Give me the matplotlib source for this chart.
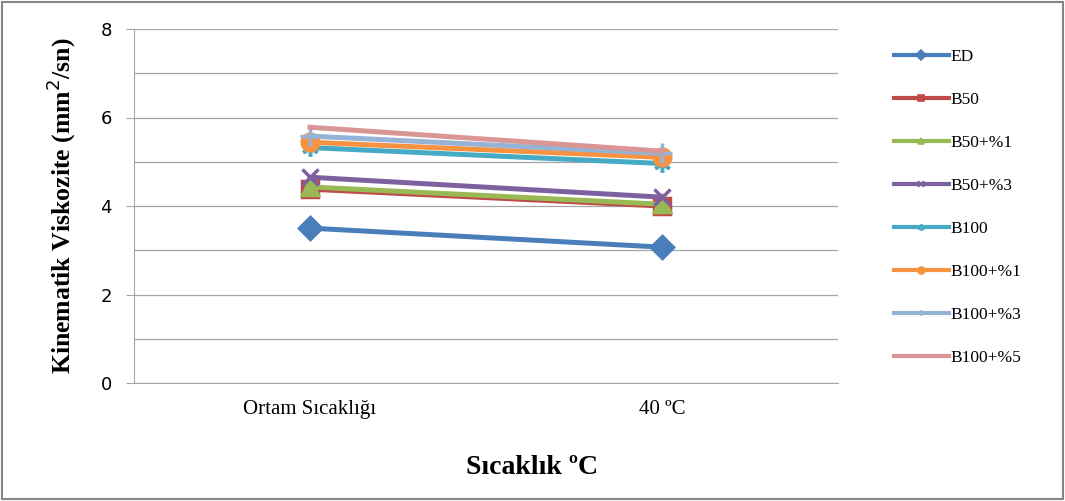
import matplotlib
matplotlib.use("Agg")
import matplotlib.pyplot as plt
from matplotlib.patches import Rectangle

categories = ["Ortam Sıcaklığı", "40 ºC"]
series_names = ["ED", "B50", "B50+%1", "B50+%3", "B100", "B100+%1", "B100+%3", "B100+%5"]
ed = [3.50, 3.07]
b50 = [4.38, 4.00]
b50_1 = [4.43, 4.04]
b50_3 = [4.65, 4.20]
b100 = [5.32, 4.96]
b100_1 = [5.44, 5.10]
b100_3 = [5.58, 5.19]
b100_5 = [5.78, 5.24]
values = [ed, b50, b50_1, b50_3, b100, b100_1, b100_3, b100_5]

colors = ["#4A7EBB", "#BE4B48", "#98B954", "#7D60A0", "#46AAC5", "#F69240", "#95B3D7", "#D99694"]
markers = ["D", "s", "^", "x", (6, 2, 0), "o", "+", None]
msizes = [11, 12, 11, 12, 12, 12, 14, 0]

serif = "Liberation Serif"

fig = plt.figure(figsize=(10.65, 5.01), dpi=100)
ax = fig.add_axes([134 / 1065, 1 - 383 / 501, (838 - 134) / 1065, (383 - 29) / 501])

x = list(range(len(categories)))
handles = []
for name, v, c, m, ms in zip(series_names, values, colors, markers, msizes):
    ax.plot(x, v, color=c, lw=3.6, marker=m, ms=ms, mew=2.5, mfc=c, mec=c, zorder=3)
    h, = ax.plot([], [], color=c, lw=3.0, marker=m, ms=5, mew=1.2, mfc=c, mec=c)
    handles.append(h)

ax.set_xlim(-0.5, 1.5)
ax.set_ylim(0, 8)
ax.set_yticks([0, 2, 4, 6, 8])
ax.set_yticks([1, 3, 5, 7], minor=True)
ax.grid(True, which="both", axis="y", color="#A6A6A6", lw=0.9, zorder=0)
ax.set_xticks(x)
ax.set_xticklabels(categories, fontfamily=serif, fontsize=15)
ax.tick_params(axis="x", length=0, pad=12)
ax.tick_params(axis="y", which="major", length=6, color="#A6A6A6", labelsize=13, pad=10)
ax.tick_params(axis="y", which="minor", length=0)
for lbl in ax.get_yticklabels():
    lbl.set_fontfamily("DejaVu Sans")
for s in ["top", "right"]:
    ax.spines[s].set_visible(False)
for s in ["left", "bottom"]:
    ax.spines[s].set_color("#A6A6A6")

ax.set_ylabel("Kinematik Viskozite (mm$^2$/sn)", fontfamily=serif, fontweight="bold",
              fontsize=18.5, labelpad=16)
fig.text(0.5, 1 - 468 / 501, "Sıcaklık ºC", ha="center", va="center",
         fontfamily=serif, fontweight="bold", fontsize=20)

leg = fig.legend(handles, series_names, loc="upper left", bbox_to_anchor=(878 / 1065, 1 - 33 / 501),
                 frameon=False, prop={"family": serif, "size": 12.5}, handlelength=3.2,
                 labelspacing=1.55, handletextpad=0.1)

fig.patches.append(Rectangle((0.002, 0.004), 0.996, 0.992, transform=fig.transFigure,
                             fill=False, edgecolor="#868686", lw=1.5))

fig.savefig("out.png", dpi=100)
